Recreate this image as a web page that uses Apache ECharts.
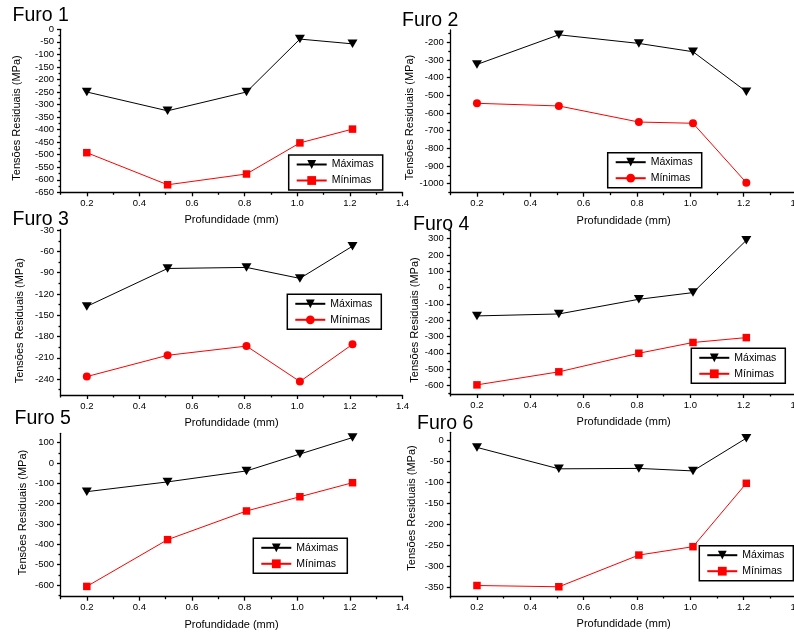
<!DOCTYPE html>
<html><head><meta charset="utf-8">
<script src="https://cdn.jsdelivr.net/npm/echarts@6/dist/echarts.min.js"></script>
<style>html,body{margin:0;padding:0;background:#fff}#c{width:794px;height:633px}</style>
</head><body><div id="c"></div>
<script>
// ---- data ----
const depth = [0.2, 0.507, 0.807, 1.01, 1.21];
const furo1Max = [-250, -325, -250, -39, -58];
const furo1Min = [-492, -620, -577, -453, -398];
const furo2Max = [-325, -157, -206, -253, -479];
const furo2Min = [-545, -560, -651, -658, -994];
const furo3Max = [-137.5, -84, -82.5, -98, -52.5];
const furo3Min = [-236.5, -206.5, -193.5, -243.5, -191];
const furo4Max = [-174, -162, -72, -31, 290];
const furo4Min = [-597, -517, -403, -337, -307];
const furo5Max = [-141, -93, -39, 44, 125];
const furo5Min = [-607, -377, -236, -166, -97];
const furo6Max = [-17, -68, -67, -73, 5];
const furo6Min = [-346, -349, -273.5, -253.5, -102.5];

const xTickLabels = [0.2, 0.4, 0.6, 0.8, 1.0, 1.2, 1.4];
const y1TickLabels = [0, -50, -100, -150, -200, -250, -300, -350, -400, -450, -500, -550, -600, -650];
const y2TickLabels = [-200, -300, -400, -500, -600, -700, -800, -900, -1000];
const y3TickLabels = [-30, -60, -90, -120, -150, -180, -210, -240];
const y4TickLabels = [300, 200, 100, 0, -100, -200, -300, -400, -500, -600];
const y5TickLabels = [100, 0, -100, -200, -300, -400, -500, -600];
const y6TickLabels = [0, -50, -100, -150, -200, -250, -300, -350];

const titles = ['Furo 1', 'Furo 2', 'Furo 3', 'Furo 4', 'Furo 5', 'Furo 6'];
const seriesNames = ['Máximas', 'Mínimas'];
const xName = 'Profundidade (mm)';
const yName = 'Tensões Residuais (MPa)';

// ---- layout ----
const FONT = 'Liberation Sans, Arial, sans-serif';
const panels = [
  {max: furo1Max, min: furo1Min, labels: y1TickLabels, ymin: -650, ymax: 0, minSym: 'rect',
   grid: {left: 60.5, top: 29.3, width: 342, height: 163}, title: [12.5, 6], yname: [17.3, 118], legend: [288.7, 155]},
  {max: furo2Max, min: furo2Min, labels: y2TickLabels, ymin: -1051, ymax: -130, minSym: 'circle',
   grid: {left: 450.3, top: 30, width: 346.7, height: 162.7}, title: [402, 11], yname: [410.3, 117.5], legend: [607.7, 152.7]},
  {max: furo3Max, min: furo3Min, labels: y3TickLabels, ymin: -262.5, ymax: -29, minSym: 'circle',
   grid: {left: 60.5, top: 229.5, width: 342, height: 165.5}, title: [12.5, 210], yname: [20, 320.7], legend: [287.3, 294.3]},
  {max: furo4Max, min: furo4Min, labels: y4TickLabels, ymin: -653, ymax: 353, minSym: 'rect',
   grid: {left: 450.3, top: 230, width: 346.7, height: 164}, title: [413, 214.7], yname: [415.3, 320], legend: [691.3, 348.3]},
  {max: furo5Max, min: furo5Min, labels: y5TickLabels, ymin: -657.5, ymax: 146, minSym: 'rect',
   grid: {left: 60.5, top: 433.3, width: 342, height: 163.4}, title: [14.5, 409], yname: [23.3, 512.5], legend: [253.3, 538.3]},
  {max: furo6Max, min: furo6Min, labels: y6TickLabels, ymin: -371, ymax: 19, minSym: 'rect',
   grid: {left: 450.3, top: 432.3, width: 346.7, height: 163.7}, title: [417, 413.7], yname: [412, 508], legend: [699.3, 545.7]}
];

function minorTicks(labels, lo, hi) {
  const s = Math.abs(labels[1] - labels[0]);
  const a = Math.min(...labels), b = Math.max(...labels);
  const out = [];
  for (let v = a - s / 2; v <= b + s / 2 + 1e-9; v += s) {
    if (v >= lo - 1e-9 && v <= hi + 1e-9) out.push(+v.toFixed(6));
  }
  return out;
}
const xMinor = minorTicks(xTickLabels, 0.1, 1.4);

const axisLine = {color: '#000', width: 1.3};
const grids = [], series = [], legends = [], titleOpts = [], graphics = [];
const xMain = [], xMin = [], yMain = [], yMinr = [];

panels.forEach((p, i) => {
  grids.push(Object.assign({containLabel: false, outerBoundsMode: 'none'}, p.grid));
  xMain.push({
    type: 'value', gridIndex: i, min: 0.1, max: 1.4, position: 'bottom',
    axisLine: {show: true, onZero: false, lineStyle: axisLine},
    axisTick: {show: true, inside: false, length: 4, customValues: xTickLabels, lineStyle: axisLine},
    axisLabel: {show: true, customValues: xTickLabels, formatter: v => v.toFixed(1), margin: 6,
      fontSize: 9.5, color: '#000', fontFamily: FONT},
    splitLine: {show: false},
    name: xName, nameLocation: 'middle', nameGap: 22.5,
    nameTextStyle: {fontSize: 11, color: '#000', fontFamily: FONT}
  });
  xMin.push({
    type: 'value', gridIndex: i, min: 0.1, max: 1.4, position: 'bottom',
    axisLine: {show: false, onZero: false},
    axisTick: {show: true, inside: false, length: 2.5, customValues: xMinor, lineStyle: axisLine},
    axisLabel: {show: false}, splitLine: {show: false}
  });
  yMain.push({
    type: 'value', gridIndex: i, min: p.ymin, max: p.ymax, position: 'left',
    axisLine: {show: true, onZero: false, lineStyle: axisLine},
    axisTick: {show: true, inside: false, length: 3.5, customValues: p.labels, lineStyle: axisLine},
    axisLabel: {show: true, customValues: p.labels, formatter: v => String(v), margin: 6.5,
      fontSize: 9.5, color: '#000', fontFamily: FONT},
    splitLine: {show: false}
  });
  yMinr.push({
    type: 'value', gridIndex: i, min: p.ymin, max: p.ymax, position: 'left',
    axisLine: {show: false, onZero: false},
    axisTick: {show: true, inside: false, length: 2, customValues: minorTicks(p.labels, p.ymin, p.ymax), lineStyle: axisLine},
    axisLabel: {show: false}, splitLine: {show: false}
  });
  const n = i + 1;
  series.push({
    type: 'line', name: seriesNames[0] + '#' + n, xAxisIndex: i, yAxisIndex: i,
    data: depth.map((x, k) => [x, p.max[k]]),
    symbol: 'triangle', symbolRotate: 180, symbolSize: [10, 8.5],
    color: '#000', lineStyle: {color: '#000', width: 1}, itemStyle: {color: '#000', borderWidth: 0},
    z: 3
  });
  series.push({
    type: 'line', name: seriesNames[1] + '#' + n, xAxisIndex: i, yAxisIndex: i,
    data: depth.map((x, k) => [x, p.min[k]]),
    symbol: p.minSym, symbolSize: p.minSym === 'rect' ? 7.5 : 8,
    color: '#ff0000', lineStyle: {color: '#ff0000', width: 1}, itemStyle: {color: '#ff0000', borderWidth: 0},
    z: 3
  });
  legends.push({
    data: [seriesNames[0] + '#' + n, seriesNames[1] + '#' + n],
    formatter: name => name.split('#')[0],
    orient: 'vertical', left: p.legend[0], top: p.legend[1],
    padding: [4, 9, 4, 7], itemWidth: 30, itemHeight: 11, itemGap: 5,
    backgroundColor: '#fff', borderColor: '#000', borderWidth: 1.5, borderRadius: 0,
    symbolRotate: 'inherit', selectedMode: false,
    textStyle: {fontSize: 10.5, color: '#000', fontFamily: FONT}
  });
  titleOpts.push({
    text: titles[i], left: p.title[0], top: p.title[1], padding: 0,
    textStyle: {fontSize: 19.5, fontWeight: 'normal', color: '#000', fontFamily: FONT}
  });
  graphics.push({
    type: 'text', x: p.yname[0], y: p.yname[1], rotation: Math.PI / 2,
    style: {text: yName, fontSize: 11, fill: '#000', fontFamily: FONT, align: 'center', verticalAlign: 'middle'}
  });
});

const chart = echarts.init(document.getElementById('c'), null, {renderer: 'canvas'});
chart.setOption({
  animation: false,
  backgroundColor: '#fff',
  title: titleOpts,
  grid: grids,
  xAxis: xMain.concat(xMin),
  yAxis: yMain.concat(yMinr),
  legend: legends,
  graphic: graphics,
  series: series
});
</script>
</body></html>
